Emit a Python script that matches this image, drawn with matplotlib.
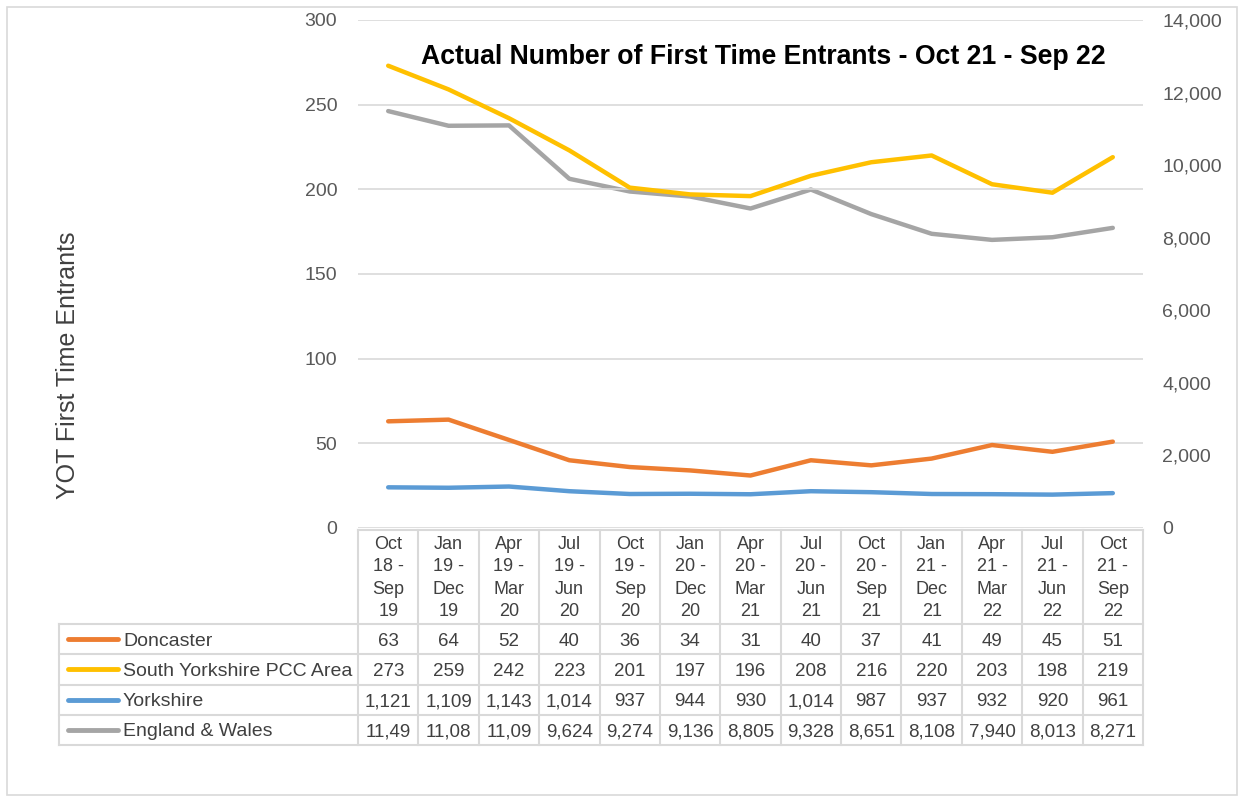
import matplotlib.pyplot as plt
from matplotlib.lines import Line2D
from matplotlib.patches import Rectangle
from matplotlib.transforms import blended_transform_factory

plt.rcParams['font.family'] = ['Liberation Sans', 'DejaVu Sans']

periods = ["Oct\n18 -\nSep\n19", "Jan\n19 -\nDec\n19", "Apr\n19 -\nMar\n20", "Jul\n19 -\nJun\n20",
           "Oct\n19 -\nSep\n20", "Jan\n20 -\nDec\n20", "Apr\n20 -\nMar\n21", "Jul\n20 -\nJun\n21",
           "Oct\n20 -\nSep\n21", "Jan\n21 -\nDec\n21", "Apr\n21 -\nMar\n22", "Jul\n21 -\nJun\n22",
           "Oct\n21 -\nSep\n22"]
doncaster = [63, 64, 52, 40, 36, 34, 31, 40, 37, 41, 49, 45, 51]
south_yorks = [273, 259, 242, 223, 201, 197, 196, 208, 216, 220, 203, 198, 219]
yorkshire = [1121, 1109, 1143, 1014, 937, 944, 930, 1014, 987, 937, 932, 920, 961]
eng_wales = [11490, 11085, 11095, 9624, 9274, 9136, 8805, 9328, 8651, 8108, 7940, 8013, 8271]

series_names = ["Doncaster", "South Yorkshire PCC Area", "Yorkshire", "England & Wales"]
colors = ["#ED7D31", "#FFC000", "#5B9BD5", "#A5A5A5"]

W, H = 1239, 798
fig = plt.figure(figsize=(W / 100, H / 100), dpi=100)

def fx(px):
    return px / W

def fy(py):
    return 1 - py / H

# frame round the whole chart
fig.patches.append(Rectangle((fx(7), fy(795)), fx(1237) - fx(7), fy(7) - fy(795),
                             transform=fig.transFigure, fill=False, ec="#d9d9d9", lw=1.2))

ax = fig.add_axes([fx(358), fy(528), fx(1143) - fx(358), fy(20) - fy(528)])
ax2 = ax.twinx()
x = list(range(len(periods)))

ax.plot(x, doncaster, color=colors[0], lw=3.2, solid_capstyle="round", zorder=3)
ax.plot(x, south_yorks, color=colors[1], lw=3.2, solid_capstyle="round", zorder=3)
ax2.plot(x, yorkshire, color=colors[2], lw=3.2, solid_capstyle="round")
ax2.plot(x, eng_wales, color=colors[3], lw=3.2, solid_capstyle="round")

ax.set_xlim(-0.5, len(periods) - 0.5)
ax.set_ylim(0, 300)
ax2.set_ylim(0, 14000)
ax.set_yticks(range(0, 301, 50))
ax2.set_yticks(range(0, 14001, 2000))
ax2.set_yticklabels([f"{v:,}" for v in range(0, 14001, 2000)])
ax.set_xticks([])
ax.grid(axis="y", color="#d9d9d9", lw=1.2)
ax.set_axisbelow(True)
for a in (ax, ax2):
    for s in a.spines.values():
        s.set_visible(False)
    a.tick_params(axis="y", length=0, labelsize=14, labelcolor="#595959")
ax.tick_params(axis="y", pad=15)
ax2.tick_params(axis="y", pad=14)
ax2.set_zorder(ax.get_zorder() - 1)
ax.patch.set_visible(False)

fig.text(fx(68), fy(365), "YOT First Time Entrants", rotation=90, fontsize=18,
         color="#404040", ha="center", va="center")
fig.text(fx(763), fy(57), "Actual Number of First Time Entrants - Oct 21 - Sep 22",
         fontsize=19.2, fontweight="bold", ha="center", va="center")

# data table under the plot
tr = blended_transform_factory(ax.transData, fig.transFigure)
grid_c = "#d9d9d9"
txt_c = "#404040"
top, head_bot = 530, 624
row_y = [624 + k * 30.25 for k in range(5)]
left_px = 59
n = len(periods)

# vertical lines of the columns
for i in range(n + 1):
    fig.add_artist(Line2D([i - 0.5, i - 0.5], [fy(top), fy(row_y[-1])], transform=tr,
                          color=grid_c, lw=1.5))
fig.add_artist(Line2D([fx(left_px), fx(left_px)], [fy(row_y[0]), fy(row_y[-1])],
                      transform=fig.transFigure, color=grid_c, lw=1.5))
fig.add_artist(Line2D([-0.5, n - 0.5], [fy(top), fy(top)], transform=tr, color=grid_c, lw=1.5))
for yy in row_y:
    fig.add_artist(Line2D([fx(left_px), fx(1143)], [fy(yy), fy(yy)],
                          transform=fig.transFigure, color=grid_c, lw=1.5))

for i, lab in enumerate(periods):
    fig.text(i, fy((top + head_bot) / 2 + 1), lab, transform=tr, ha="center", va="center",
             fontsize=13, color=txt_c, linespacing=1.4)

all_vals = [doncaster, south_yorks, yorkshire, eng_wales]
for r, (name, vals, c) in enumerate(zip(series_names, all_vals, colors)):
    yc = fy((row_y[r] + row_y[r + 1]) / 2)
    fig.add_artist(Line2D([fx(68), fx(118)], [yc, yc], transform=fig.transFigure,
                          color=c, lw=3.5, solid_capstyle="round"))
    fig.text(fx(123), yc, name, ha="left", va="center_baseline", fontsize=14, color=txt_c)
    for i, v in enumerate(vals):
        # cells are too narrow for 6 characters, so the text is cut off
        fig.text(i, yc, f"{v:,}"[:5], transform=tr, ha="center", va="center_baseline",
                 fontsize=13.5, color=txt_c)

fig.savefig("out.png", dpi=100)
